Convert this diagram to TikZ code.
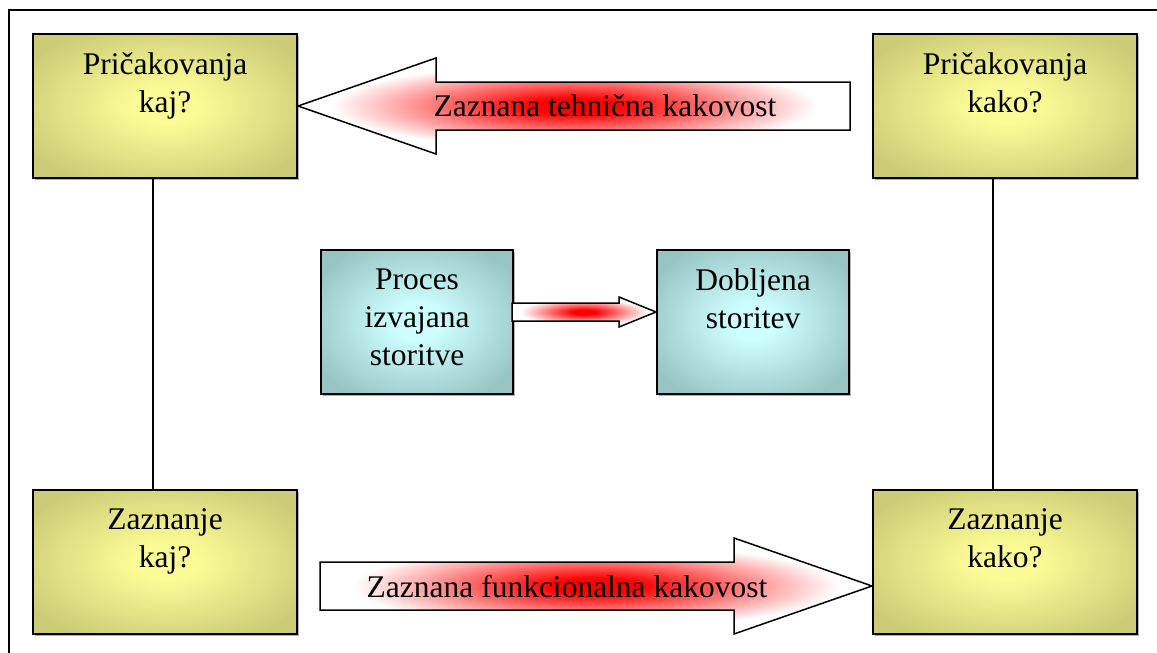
\documentclass[tikz,border=0pt]{standalone}
\usepackage{fontspec}
\setmainfont{Liberation Serif}
\usetikzlibrary{calc,shadows}

\definecolor{oliveedge}{RGB}{204,204,120}
\definecolor{olivecore}{RGB}{252,252,150}
\definecolor{tealedge}{RGB}{153,196,196}
\definecolor{tealcore}{RGB}{205,255,255}
\definecolor{glow}{RGB}{255,0,0}

% box and arrow fills, centred on the shape (50bp = edge of the shape)
\pgfdeclareradialshading{olivefill}{\pgfpoint{0bp}{0bp}}{%
  color(0bp)=(olivecore); color(6bp)=(olivecore);
  color(30bp)=(oliveedge); color(50bp)=(oliveedge)}
\pgfdeclareradialshading{tealfill}{\pgfpoint{0bp}{0bp}}{%
  color(0bp)=(tealcore); color(6bp)=(tealcore);
  color(30bp)=(tealedge); color(50bp)=(tealedge)}
\pgfdeclareradialshading{redglow}{\pgfpoint{0bp}{0bp}}{%
  color(0bp)=(glow); color(4bp)=(glow);
  color(22bp)=(white); color(50bp)=(white)}

\tikzset{
  box/.style={rectangle, draw=black, line width=2pt, inner sep=0pt,
    minimum width=264pt, minimum height=144pt, shading=olivefill,
    drop shadow={shadow xshift=1.5pt, shadow yshift=-1.5pt, fill=black!30, opacity=1}},
  tealbox/.style={box, minimum width=192pt, shading=tealfill},
  boxtext/.style={anchor=north, inner sep=0pt, align=center,
    font=\fontsize{31.5}{38}\selectfont},
  arrowtext/.style={anchor=base, inner sep=0pt,
    font=\fontsize{31.5}{38}\selectfont},
  blockarrow/.style={draw=black, line width=1.5pt, line join=miter, shading=redglow},
  link/.style={draw=black, line width=2pt},
  frame/.style={draw=black, line width=2.5pt}
}

\begin{document}
\begin{tikzpicture}[x=1pt, y=-1pt]
  \useasboundingbox (0,0) rectangle (1157,653);
  \clip (0,0) rectangle (1157,653);
  \fill[white] (0,0) rectangle (1157,653);

  % outer frame, running past the right and bottom edges
  \draw[frame] (9,10) rectangle (1180,680);

  % corner boxes
  \node[box] (tl) at (165,106) {};
  \node[box] (tr) at (1005,106) {};
  \node[box] (bl) at (165,562) {};
  \node[box] (br) at (1005,562) {};

  % central boxes
  \node[tealbox] (proc) at (417,322) {};
  \node[tealbox] (dob) at (753,322) {};

  % box labels
  \node[boxtext] (tl-t) at ([yshift=-19.5pt]tl.north) {Pričakovanja\\kaj?};
  \node[boxtext] (tr-t) at ([yshift=-19.5pt]tr.north) {Pričakovanja\\kako?};
  \node[boxtext] (bl-t) at ([yshift=-19.5pt]bl.north) {Zaznanje\\kaj?};
  \node[boxtext] (br-t) at ([yshift=-19.5pt]br.north) {Zaznanje\\kako?};
  \node[boxtext] (proc-t) at ([yshift=-20pt]proc.north) {Proces\\izvajana\\storitve};
  \node[boxtext] (dob-t) at ([yshift=-19.5pt]dob.north) {Dobljena\\storitev};

  % vertical links between expectation and perception
  \draw[link] ([xshift=-12pt]tl.south) -- ([xshift=-12pt]bl.north);
  \draw[link] ([xshift=-12pt]tr.south) -- ([xshift=-12pt]br.north);

  % technical quality arrow, pointing at the top left box
  \coordinate (ttip) at (tl.east);
  \shade[blockarrow] (ttip) -- ++(138,-48) -- ++(0,24) -- ++(414,0)
    -- ++(0,48) -- ++(-414,0) -- ++(0,24) -- cycle;
  \node[arrowtext] (tq) at (605,116) {Zaznana tehnična kakovost};

  % functional quality arrow, pointing at the bottom right box
  \coordinate (btip) at ([yshift=-24pt]br.west);
  \shade[blockarrow] (btip) -- ++(-138,-48) -- ++(0,24) -- ++(-414,0)
    -- ++(0,48) -- ++(414,0) -- ++(0,24) -- cycle;
  \node[arrowtext] (fq) at (567,597) {Zaznana funkcionalna kakovost};

  % process to delivered service
  \coordinate (mtip) at ([yshift=10pt]dob.west);
  \shade[blockarrow] (mtip) -- ++(-37,-15) -- ++(0,6) -- ++(-107,0)
    -- ++(0,18) -- ++(107,0) -- ++(0,6) -- cycle;
\end{tikzpicture}
\end{document}
